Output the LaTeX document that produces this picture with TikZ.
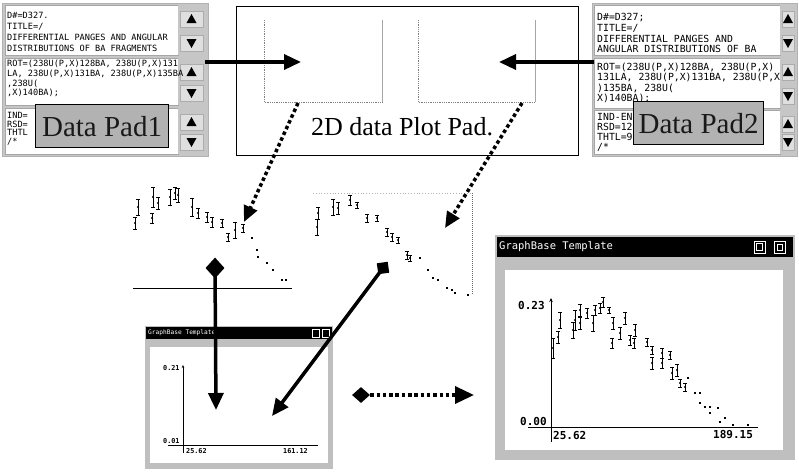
\documentclass[tikz,border=0pt]{standalone}
\usepackage{fontspec}
\setmainfont{Liberation Serif}
\newfontfamily\padmono{DejaVu Sans Mono}
\usetikzlibrary{arrows.meta,shapes.geometric}
\newcommand\scrl[4]{%
 \fill[sbar] (#1,#3) rectangle (#2,#4);
 \draw[sbtn] ({#1+2},{#3+6}) rectangle ({#2-2},{#3+22});
 \draw[sbtn] ({#1+2},{#4-20}) rectangle ({#2-2},{#4-4});
 \fill ({(#1+#2)/2},{#3+9}) -- ({(#1+#2)/2-5},{#3+18}) -- ({(#1+#2)/2+5},{#3+18}) -- cycle;
 \fill ({(#1+#2)/2},{#4-7}) -- ({(#1+#2)/2-5},{#4-16}) -- ({(#1+#2)/2+5},{#4-16}) -- cycle;
}
\newcommand\eb[3]{%
 \draw[ebarline] ({#1-1.6},{#2-#3}) -- ({#1+1.6},{#2-#3}) ({#1},{#2-#3}) -- ({#1},{#2+#3}) ({#1-1.6},{#2+#3}) -- ({#1+1.6},{#2+#3});
 \fill (#1,#2) circle (1.2);}
\newcommand\dt[2]{\fill ({#1-1},{#2-1}) rectangle ({#1+1.2},{#2+1.2});}
\begin{document}
\begin{tikzpicture}[x=1pt,y=-1pt,
  padframe/.style={fill=gray!45, draw=gray!60, line width=0.6pt, inner sep=0pt, anchor=north west},
  tbox/.style={fill=white, draw=gray!70, line width=0.7pt},
  sbar/.style={fill=gray!45},
  sbtn/.style={fill=gray!25, draw=gray!65, line width=0.4pt},
  ptxtL/.style={font=\padmono\fontsize{8.6}{#1}\selectfont, align=left, inner sep=0pt, anchor=north west},
  ptxtR/.style={font=\padmono\fontsize{9.8}{#1}\selectfont, align=left, inner sep=0pt, anchor=north west},
  padlabel/.style={draw=black, line width=1.2pt, fill=gray!60, text=black!90, font=\fontsize{29}{29}\selectfont, inner sep=0pt, minimum height=43pt, anchor=north west},
  bigarrow/.style={line width=3.5pt, -{Triangle[length=17pt,width=15pt]}},
  dotarrow/.style={line width=3.5pt, dash pattern=on 3.5pt off 2.8pt, -{Triangle[length=16pt,width=14pt]}},
  dotarrowb/.style={line width=3.5pt, dash pattern=on 3.5pt off 2.8pt, -{Triangle[length=19pt,width=17pt]}},
  ebarline/.style={line width=0.7pt},
  win/.style={fill=gray!50, inner sep=0pt, anchor=north west},
  titlebar/.style={fill=black},
  axisline/.style={line width=0.9pt},
  bigax/.style={font=\padmono\bfseries\fontsize{11}{11}\selectfont, inner sep=0pt, anchor=west},
  smallax/.style={font=\padmono\bfseries\fontsize{6.8}{6.8}\selectfont, inner sep=0pt, anchor=west},
]
\useasboundingbox (0,0) rectangle (799,472);
\fill[white] (0,0) rectangle (799,472);

% ---------- Data Pad 1 ----------
\node[padframe, minimum width=206pt, minimum height=153pt] (pad1) at (2,3) {};
\draw[tbox] (5,5) rectangle (178,55);
\draw[tbox] (5,58) rectangle (178,105);
\draw[tbox] (5,108) rectangle (178,154);
\scrl{178}{205}{5}{55}
\scrl{178}{205}{58}{105}
\scrl{178}{205}{108}{154}
\node[ptxtL=11] (p1a) at (7,12) {D\#=D327.\\TITLE=/\\DIFFERENTIAL PANGES AND ANGULAR\\DISTRIBUTIONS OF BA FRAGMENTS};
\node[ptxtL=9.7] (p1b) at (7,60) {ROT=(238U(P,X)128BA, 238U(P,X)131\\LA, 238U(P,X)131BA, 238U(P,X)135BA\\,238U(\\,X)140BA);};
\node[ptxtL=8.6] (p1c) at (7,112) {IND=\\RSD=\\THTL\\/*};
\node[padlabel, minimum width=133pt] (lab1) at (35,104) {Data Pad1};

% ---------- Data Pad 2 ----------
\node[padframe, minimum width=205pt, minimum height=153pt] (pad2) at (592,3) {};
\draw[tbox] (594,5) rectangle (780,55);
\draw[tbox] (594,58) rectangle (780,108);
\draw[tbox] (594,110) rectangle (780,154);
\scrl{780}{796}{5}{55}
\scrl{780}{796}{58}{108}
\scrl{780}{796}{110}{154}
\node[ptxtR=10.8] (p2a) at (597,13) {D\#=D327;\\TITLE=/\\DIFFERENTIAL PANGES AND\\ANGULAR DISTRIBUTIONS OF BA};
\node[ptxtR=10.3] (p2b) at (597,63) {ROT=(238U(P,X)128BA, 238U(P,X)\\131LA, 238U(P,X)131BA, 238U(P,X\\)135BA, 238U(\\ X)140BA);};
\node[ptxtR=10] (p2c) at (597,113) {IND-EN\\RSD=12\\THTL=9\\/*};
\node[padlabel, minimum width=130pt] (lab2) at (633,101) {Data Pad2};

% ---------- 2D data Plot Pad ----------
\node[draw, line width=1.2pt, fill=white, anchor=north west, minimum width=342pt, minimum height=149pt, inner sep=0pt] (plotpad) at (236,6) {};
\draw[gray, line width=0.8pt, densely dotted] (264,20) -- (264,102) -- (382,102);
\draw[gray!70, line width=1pt] (382,20) -- (382,102);
\draw[gray, line width=0.8pt, densely dotted] (418,20) -- (418,102) -- (535,102);
\draw[gray!70, line width=1pt] (535,20) -- (535,102);
\node[font=\fontsize{26}{26}\selectfont, inner sep=0pt] (ptitle) at (402,127) {2D data Plot Pad.};

% ---------- left scatter ----------
\foreach \x/\y/\h in {135/223/6,138/207/8,152/218/5,153/197/10,158/203/6,170/197/8,175/193/6,178/195/7,192/207/9,198/213/5,207/217/5,212/222/5,222/223/4,228/237/4,235/230/8,243/228/4}
  {\eb{\x}{\y}{\h}}
\foreach \x/\y in {252/238,257/250,258/257,267/263,273/270,282/280,286/280}
  {\dt{\x}{\y}}
\draw[line width=1pt] (133,288) -- (292,288);

% ---------- right scatter ----------
\foreach \x/\y/\h in {317/227/8,318/213/6,333/207/8,338/208/6,350/200/5,357/205/3,367/218/4,377/218/3,387/232/4,392/237/4,398/240/3,407/255/4,410/258/3}
  {\eb{\x}{\y}{\h}}
\foreach \x/\y in {420/258,428/270,433/278,438/280,447/288,452/290,455/293,468/295}
  {\dt{\x}{\y}}
\draw[gray!60, line width=0.8pt, dotted] (313,193) -- (470,193);
\draw[gray!80!black, line width=1pt, densely dotted] (472,193) -- (472,295);

% ---------- small window ----------
\node[win, minimum width=188pt, minimum height=143pt] (smallwin) at (145,326) {};
\fill[titlebar] (146,327) rectangle (332,339);
\node[font=\padmono\fontsize{6.2}{6.2}\selectfont, text=white, anchor=west, inner sep=0pt] (stitle) at (148,333) {GraphBase Template};
\draw[white, line width=0.6pt] (312,329) rectangle (319,337);
\draw[white, line width=0.6pt] (322,329) rectangle (329,337);
\fill[white] (150,347) rectangle (328,463);
\draw[axisline, line width=0.7pt, -{Stealth[length=3pt,width=2.5pt]}] (183,453) -- (183,365);
\draw[axisline, line width=0.7pt] (168,445) -- (318,445);
\node[smallax] (s1) at (163,368) {0.21};
\node[smallax] (s2) at (163,441) {0.01};
\node[smallax] (s3) at (186,451) {25.62};
\node[smallax] (s4) at (283,451) {161.12};

% ---------- big window ----------
\node[win, minimum width=300pt, minimum height=225pt] (bigwin) at (495,235) {};
\fill[titlebar] (497,237) rectangle (793,257);
\node[font=\padmono\fontsize{10.5}{10.5}\selectfont, text=white, anchor=west, inner sep=0pt] (btitle) at (499,247) {GraphBase Template};
\draw[white, line width=0.9pt] (754,241) rectangle (765,253);
\draw[white, line width=0.9pt] (756.5,243.5) rectangle (762.5,250.5);
\draw[white, line width=0.9pt] (774,241) rectangle (785,253);
\draw[white, line width=0.7pt] (777,244) rectangle (782,250);
\fill[white] (505,270) rectangle (783,450);
\draw[axisline, -{Stealth[length=4pt,width=3.5pt]}] (551,442) -- (551,298);
\draw[axisline] (528,427) -- (758,427);
\node[bigax] (b1) at (518,305) {0.23};
\node[bigax] (b2) at (520,421) {0.00};
\node[bigax] (b3) at (553,435) {25.62};
\node[bigax] (b4) at (713,435) {189.15};
\foreach \x/\y/\h in {553/348/10,558/337/6,560/320/8,573/330/8,575/320/10,580/310/6,580/323/6,587/313/5,593/323/8,595/310/5,600/308/5,603/302/5,609/310/3,613/323/6,612/343/5,620/333/6,625/318/6,630/340/5,634/343/5,635/330/6,647/342/4,652/350/4,652/363/6,662/353/5,662/363/5,670/355/4,672/373/6,677/370/6,680/383/4,685/387/4}
  {\eb{\x}{\y}{\h}}
\foreach \x/\y in {688/378,695/393,700/393,700/403,705/407,710/407,710/413,718/408,720/422,725/418,733/425,748/425}
  {\dt{\x}{\y}}

% ---------- connectors ----------
\coordinate (a1s) at (205,62);
\coordinate (a1e) at (301,62);
\coordinate (a2s) at (594,62);
\coordinate (a2e) at (499,62);
\draw[bigarrow] (a1s) -- (a1e);
\draw[bigarrow] (a2s) -- (a2e);
\coordinate (d1s) at (298,103);
\coordinate (d1e) at (244,222);
\coordinate (d2s) at (522,103);
\coordinate (d2e) at (445,228);
\draw[dotarrow] (d1s) -- (d1e);
\draw[dotarrow] (d2s) -- (d2e);
\node[diamond, fill=black, minimum width=19pt, minimum height=21pt, inner sep=0pt] (dia1) at (215,268) {};
\coordinate (v1e) at (216,410);
\draw[bigarrow] (dia1.center) -- (v1e);
\node[fill=black, minimum size=11pt, inner sep=0pt, rotate=8] (sq1) at (383,268) {};
\coordinate (s1e) at (272,416);
\draw[bigarrow] (sq1.center) -- (s1e);
\node[diamond, fill=black, minimum width=18pt, minimum height=16pt, inner sep=0pt] (dia2) at (361,395) {};
\coordinate (h1e) at (474,395);
\draw[dotarrowb] (dia2.east) -- (h1e);
\end{tikzpicture}
\end{document}
